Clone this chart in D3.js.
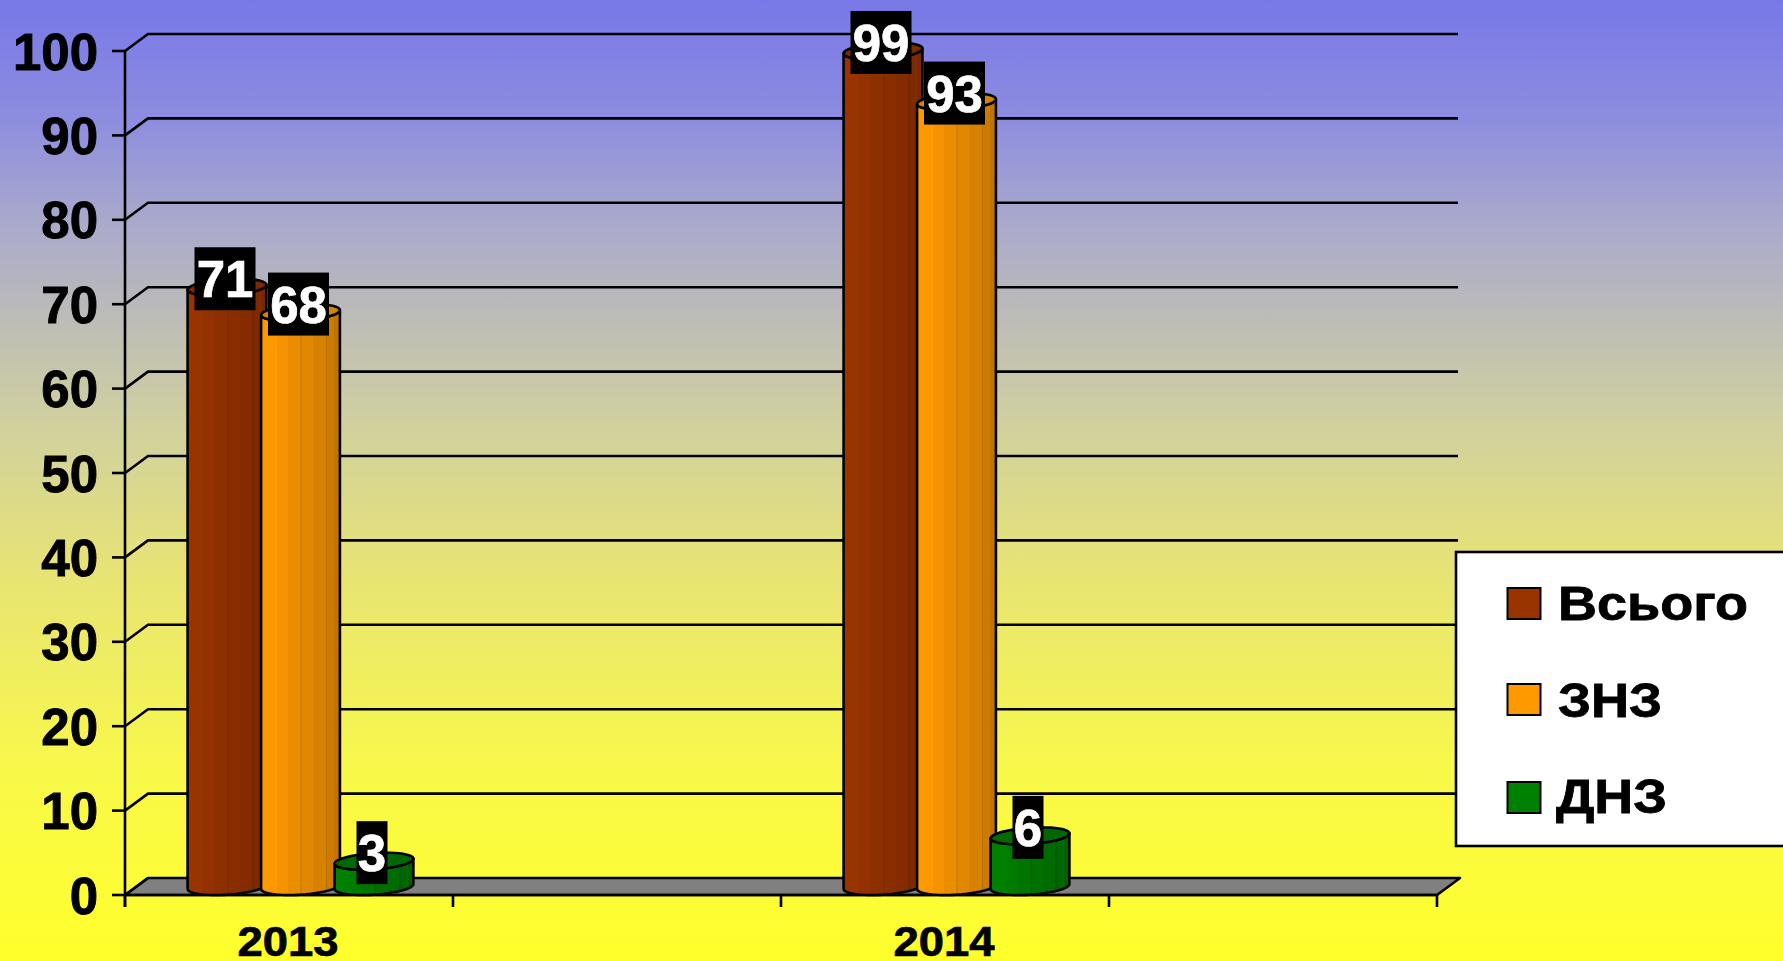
<!DOCTYPE html>
<html><head><meta charset="utf-8">
<script src="https://cdnjs.cloudflare.com/ajax/libs/d3/7.8.5/d3.min.js"></script>
<style>html,body{margin:0;padding:0;overflow:hidden;background:#ffff2b}svg{display:block}text{font-family:"Liberation Sans",Arial,sans-serif;font-weight:bold}</style>
</head><body><svg id="c" width="1783" height="961"></svg>
<script>
const categories = ["2013", "", "2014", ""];
const seriesNames = ["Всього", "ЗНЗ", "ДНЗ"];
const vsogo = [71, null, 99, null];
const znz = [68, null, 93, null];
const dnz = [3, null, 6, null];
const yTicks = [0,10,20,30,40,50,60,70,80,90,100];
const seriesColors = ["#993300", "#ff9900", "#008000"];
const darkColors = ["#742700", "#b87000", "#005c00"];
const topColors = ["#7c2a00", "#d08400", "#006800"];
const bgStops = [[0,"#7878e8"],[0.12,"#8c8ce0"],[0.23,"#a9a9cc"],[0.33,"#bcbcb8"],[0.44,"#d0d0a0"],[0.6,"#e8e474"],[0.8,"#f8f84a"],[1,"#ffff2b"]];

const W=1783,H=961, x0=125,x1=1437,y0=895,y100=51,dx=23,dy=17;
const svg=d3.select("#c");
const defs=svg.append("defs");
const bg=defs.append("linearGradient").attr("id","bg").attr("x1",0).attr("x2",0).attr("y1",0).attr("y2",1);
bgStops.forEach(s=>bg.append("stop").attr("offset",s[0]).attr("stop-color",s[1]));
svg.append("rect").attr("width",W).attr("height",H).attr("fill","url(#bg)");

const y=d3.scaleLinear().domain([0,100]).range([y0,y100]);
const x=d3.scaleBand().domain(d3.range(categories.length)).range([x0,x1]);
const xs=d3.scaleBand().domain(d3.range(3)).range([0,220.5]);

// stepped cylinder shading with faint lighter seams
seriesColors.forEach((c,i)=>{
  const g=defs.append("linearGradient").attr("id","bar"+i).attr("x1",0).attr("x2",1).attr("y1",0).attr("y2",0);
  const mix=d3.interpolateRgb(c,darkColors[i]);
  const edges=[0,.2,.34,.5,.52,.66,.82,.84,.92,.93,1];
  const lev=[0,.14,.3,.62,.42,.58,1,.72,.42,.9];
  lev.forEach((l,k)=>{
    const col=mix(l);
    g.append("stop").attr("offset",edges[k]).attr("stop-color",col);
    g.append("stop").attr("offset",edges[k+1]).attr("stop-color",col);
  });
});

const stroke="#000", sw=2.6;
// floor
svg.append("path").attr("d",d3.line()([[x0,y0],[x0+dx,y0-dy],[x1+dx,y0-dy],[x1,y0]])+"Z")
  .attr("fill","#808080").attr("stroke",stroke).attr("stroke-width",sw).attr("stroke-linejoin","round");
// gridlines on back + side wall
const grid=svg.append("g").attr("fill","none").attr("stroke",stroke).attr("stroke-width",sw);
grid.selectAll("path").data(yTicks).join("path")
  .attr("d",v=>d3.line()(v===0?[[x0,y(v)],[x0+dx,y(v)-dy]]:[[x0,y(v)],[x0+dx,y(v)-dy],[x1+dx-2,y(v)-dy]]));
// axes
const ax=svg.append("g").attr("stroke",stroke).attr("stroke-width",sw);
ax.append("line").attr("x1",x0).attr("x2",x0).attr("y1",y100).attr("y2",y0+12);
ax.append("line").attr("x1",x0).attr("x2",x1).attr("y1",y0).attr("y2",y0);
ax.selectAll(".yt").data(yTicks).join("line").attr("class","yt").attr("x1",x0-13).attr("x2",x0).attr("y1",d=>y(d)).attr("y2",d=>y(d));
ax.selectAll(".xt").data(d3.range(categories.length+1)).join("line").attr("class","xt")
  .attr("x1",d=>x0+d*x.bandwidth()).attr("x2",d=>x0+d*x.bandwidth()).attr("y1",y0).attr("y2",y0+12);
// tick labels
svg.append("g").selectAll("text").data(yTicks).join("text").attr("x",98).attr("y",d=>y(d)+18.5)
  .attr("text-anchor","end").attr("font-size",51).attr("fill","#000").attr("stroke","#000").attr("stroke-width",0.9).text(d=>d);
svg.append("g").selectAll("text").data(categories).join("text").attr("x",(d,i)=>x(i)+x.bandwidth()/2-1).attr("y",956)
  .attr("text-anchor","middle").attr("font-size",42).attr("fill","#000").attr("stroke","#000").attr("stroke-width",0.7)
  .attr("textLength",d=>d?101:null).attr("lengthAdjust","spacingAndGlyphs").text(d=>d);

// cylinders
const series=[vsogo,znz,dnz];
const u=37.7, hx=dx/2, hy=dy/2;
const pt=(cx,cy,t)=>[cx+u*Math.cos(t)+hx*Math.sin(t), cy-hy*Math.sin(t)];
const tR=Math.atan2(hx,u), tL=tR+Math.PI;
const line=d3.line();
const bars=[];
series.forEach((vals,s)=>vals.forEach((v,c)=>{ if(v!=null) bars.push({s,c,v}); }));
const gb=svg.append("g");
bars.forEach(b=>{
  const cx=x(b.c)+x.bandwidth()/2+hx-xs.bandwidth()*1.5+xs(b.s)+xs.bandwidth()/2;
  const cyB=y(0)-hy, cyT=y(b.v)-hy;
  b.cx=cx; b.cyT=cyT;
  const lower=d3.range(0,25).map(k=>pt(cx,cyB,tL+(k/24)*Math.PI));
  const upper=d3.range(0,25).map(k=>pt(cx,cyT,tL+(k/24)*Math.PI)).reverse();
  gb.append("path").attr("d",line(lower.concat(upper))+"Z").attr("fill",`url(#bar${b.s})`)
    .attr("stroke",stroke).attr("stroke-width",sw).attr("stroke-linejoin","round");
  const ring=d3.range(0,48).map(k=>pt(cx,cyT,(k/48)*2*Math.PI));
  gb.append("path").attr("d",line(ring)+"Z").attr("fill",topColors[b.s])
    .attr("stroke",stroke).attr("stroke-width",sw).attr("stroke-linejoin","round");
});
// data labels
const gl=svg.append("g");
bars.forEach(b=>{
  const t=String(b.v), w=t.length===2?61:31, h=63;
  const cx=b.cx-2, cy=b.cyT-8.5;
  gl.append("rect").attr("x",cx-w/2).attr("y",cy-h/2).attr("width",w).attr("height",h).attr("fill","#000");
  gl.append("text").attr("x",cx).attr("y",cy+18.5).attr("text-anchor","middle").attr("font-size",51).attr("fill","#fff").attr("stroke","#fff").attr("stroke-width",0.7).text(t);
});
// legend
const lg=svg.append("g");
lg.append("rect").attr("x",1456).attr("y",552).attr("width",360).attr("height",294).attr("fill","#fff").attr("stroke",stroke).attr("stroke-width",sw);
const swY=[588,684,782], tY=[620,717,813], tX=[1558,1558,1556], tW=[190,104,111];
seriesNames.forEach((n,i)=>{
  lg.append("rect").attr("x",1507.5).attr("y",swY[i]).attr("width",33).attr("height",31).attr("fill",seriesColors[i]).attr("stroke",stroke).attr("stroke-width",2);
  lg.append("text").attr("x",tX[i]).attr("y",tY[i]).attr("font-size",48).attr("fill","#000").attr("stroke","#000").attr("stroke-width",0.8)
    .attr("textLength",tW[i]).attr("lengthAdjust","spacingAndGlyphs").text(n);
});
</script></body></html>
